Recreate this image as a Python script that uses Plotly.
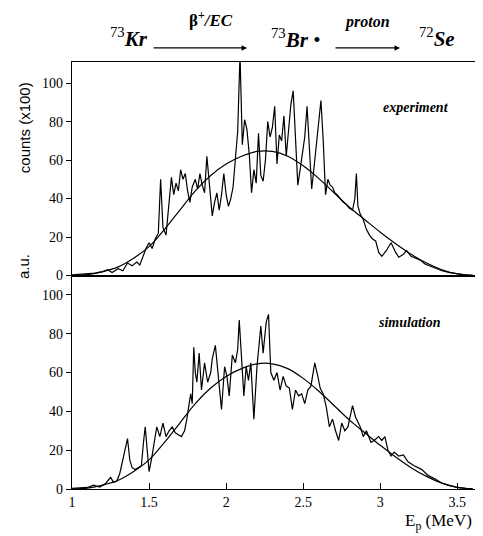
import plotly.graph_objects as go

# ---------------- data ----------------
exp_E = [1.00, 1.05, 1.10, 1.15, 1.20, 1.23, 1.26, 1.30, 1.33, 1.36, 1.39, 1.42, 1.44, 1.46, 1.48,
         1.50, 1.52, 1.54, 1.56, 1.575, 1.59, 1.61, 1.63, 1.645, 1.66, 1.675, 1.69, 1.705, 1.72,
         1.735, 1.75, 1.765, 1.78, 1.80, 1.815, 1.83, 1.845, 1.86, 1.875, 1.89, 1.91, 1.925, 1.94,
         1.955, 1.97, 1.985, 2.00, 2.015, 2.03, 2.045, 2.06, 2.075, 2.09, 2.105, 2.12, 2.135, 2.15,
         2.165, 2.18, 2.195, 2.21, 2.225, 2.24, 2.255, 2.27, 2.285, 2.30, 2.315, 2.33, 2.345, 2.36,
         2.375, 2.39, 2.405, 2.42, 2.435, 2.45, 2.465, 2.48, 2.495, 2.51, 2.525, 2.54, 2.555, 2.57,
         2.585, 2.60, 2.615, 2.63, 2.645, 2.66, 2.675, 2.69, 2.705, 2.72, 2.74, 2.76, 2.78, 2.80,
         2.82, 2.835, 2.845, 2.855, 2.87, 2.89, 2.91, 2.93, 2.95, 2.97, 2.99, 3.01, 3.04, 3.07,
         3.10, 3.12, 3.15, 3.17, 3.20, 3.23, 3.26, 3.29, 3.32, 3.36, 3.40, 3.45, 3.50, 3.55, 3.60]
exp_counts = [0.3, 0.5, 0.8, 1.2, 2.0, 3.0, 1.5, 3.5, 2.5, 6.5, 5, 7, 5.5, 10, 14,
              17, 14, 19, 22, 50, 25, 21, 40, 51, 42, 48, 44, 55, 50,
              53, 44, 38, 46, 50, 45, 53, 47, 43, 62, 48, 31, 38, 43,
              34, 42, 53, 42, 36, 40, 46, 60, 75, 115, 68, 81, 76, 63,
              43, 55, 48, 74, 52, 49, 60, 80, 72, 77, 88, 58, 73, 70,
              83, 62, 75, 89, 96, 68, 47, 55, 65, 72, 88, 65, 45, 56,
              68, 80, 91, 70, 42, 50, 47, 46, 43, 42, 40, 38, 37, 35,
              34, 40, 53, 36, 32, 29, 24, 21, 19, 18, 12, 10, 13, 17,
              12, 9.5, 11, 13, 10, 9, 8, 6, 5, 3.5, 2.5, 1.5, 0.8, 0.4, 0.2]

sim_E = [1.00, 1.05, 1.10, 1.14, 1.18, 1.22, 1.25, 1.27, 1.29, 1.31, 1.33, 1.345, 1.36, 1.375,
         1.39, 1.41, 1.43, 1.45, 1.465, 1.475, 1.49, 1.50, 1.515, 1.53, 1.55, 1.57, 1.59, 1.61,
         1.63, 1.65, 1.67, 1.69, 1.71, 1.73, 1.745, 1.76, 1.77, 1.78, 1.79, 1.80, 1.81, 1.825,
         1.84, 1.86, 1.88, 1.90, 1.91, 1.93, 1.95, 1.97, 1.99, 2.005, 2.02, 2.04, 2.06, 2.075,
         2.085, 2.10, 2.115, 2.13, 2.145, 2.16, 2.18, 2.20, 2.225, 2.24, 2.26, 2.275, 2.29, 2.31,
         2.33, 2.35, 2.37, 2.39, 2.41, 2.43, 2.45, 2.47, 2.49, 2.51, 2.53, 2.55, 2.575, 2.595,
         2.61, 2.63, 2.65, 2.67, 2.69, 2.71, 2.73, 2.75, 2.77, 2.79, 2.82, 2.84, 2.87, 2.89,
         2.91, 2.94, 2.96, 2.99, 3.01, 3.03, 3.05, 3.07, 3.09, 3.12, 3.15, 3.18, 3.22, 3.27,
         3.31, 3.36, 3.40, 3.44, 3.49, 3.55, 3.60]
sim_au = [0.3, 0.5, 0.8, 2, 1, 3, 6, 3.5, 4, 8, 15, 22, 26, 15,
          11, 10, 11, 12, 25, 32, 18, 9, 15, 22, 32, 27, 34, 27,
          30, 32, 29, 28, 27, 30, 36, 44, 49, 44, 73, 60, 55, 70,
          51, 65, 55, 60, 67, 74, 56, 41, 63, 58, 48, 69, 65, 72,
          87, 66, 48, 63, 56, 65, 36, 63, 84, 70, 86, 90, 60, 56,
          60, 51, 58, 53, 52, 41, 51, 48, 49, 44, 51, 53, 65, 58,
          52, 49, 42, 32, 36, 30, 25, 34, 30, 32, 43, 37, 32, 27,
          30, 24, 25, 27, 25, 27, 20, 17, 19, 17, 17.5, 14, 12, 10,
          7, 5, 3, 2, 1, 0.3, 0.1]

fit_E = [1.0, 1.1, 1.2, 1.3, 1.4, 1.5, 1.6, 1.7, 1.8, 1.9, 2.0, 2.1, 2.2, 2.3,
         2.4, 2.5, 2.6, 2.7, 2.8, 2.9, 3.0, 3.1, 3.2, 3.3, 3.4, 3.5, 3.6]
fit_vals = [0, 0.5, 2, 4.5, 9, 15, 24, 34, 44, 52, 58, 62, 64.5, 64.5,
            62, 57, 50.5, 43, 35.5, 29, 22.5, 16.5, 11, 6.5, 3, 0.8, 0]

x_ticks = [1, 1.5, 2, 2.5, 3, 3.5]
x_ticklabels = ["1", "1.5", "2", "2.5", "3", "3.5"]
y_ticks = [0, 20, 40, 60, 80, 100]

# ---------------- figure ----------------
SERIF = "Liberation Serif"
line_style = dict(color="black", width=1.2)
fit_style = dict(color="black", width=1.2, shape="spline")

fig = go.Figure()
fig.add_trace(go.Scatter(x=exp_E, y=exp_counts, mode="lines", line=line_style,
                         xaxis="x2", yaxis="y2"))
fig.add_trace(go.Scatter(x=fit_E, y=fit_vals, mode="lines", line=fit_style,
                         xaxis="x2", yaxis="y2"))
fig.add_trace(go.Scatter(x=sim_E, y=sim_au, mode="lines", line=line_style,
                         xaxis="x", yaxis="y"))
fig.add_trace(go.Scatter(x=fit_E, y=fit_vals, mode="lines", line=fit_style,
                         xaxis="x", yaxis="y"))

axis_common = dict(showline=True, mirror=True, linecolor="black", linewidth=1.3,
                   showgrid=False, zeroline=False)
tickfont = dict(family=SERIF, size=14, color="black")

# the page body adds an 8px margin, so the figure is sized to fit the window
fig.update_layout(
    width=475, height=528,
    margin=dict(l=64, r=1, t=54, b=47),
    paper_bgcolor="white", plot_bgcolor="white",
    showlegend=False,
    xaxis=dict(**axis_common, range=[1, 3.66], domain=[0, 1], anchor="y",
               tickvals=x_ticks, ticktext=x_ticklabels, ticks="inside", ticklen=6,
               tickcolor="black", tickfont=tickfont),
    yaxis=dict(**axis_common, range=[0, 110], domain=[0, 0.5], anchor="x",
               tickvals=y_ticks, ticks="outside", ticklen=5, tickcolor="black",
               tickfont=tickfont),
    xaxis2=dict(**axis_common, range=[1, 3.66], domain=[0, 1], anchor="y2",
                matches="x", showticklabels=False, ticks=""),
    yaxis2=dict(**axis_common, range=[0, 111], domain=[0.5, 1], anchor="x2",
                tickvals=y_ticks, ticks="outside", ticklen=5, tickcolor="black",
                tickfont=tickfont),
)

ann_font_it = dict(family=SERIF, size=14, color="black")
big = dict(family=SERIF, size=21, color="black")
C = dict(xanchor="center", yanchor="middle", showarrow=False)

annotations = [
    dict(text="<b><i>experiment</i></b>", x=3.23, y=87.5, xref="x2", yref="y2",
         font=ann_font_it, **C),
    dict(text="<b><i>simulation</i></b>", x=3.19, y=86, xref="x", yref="y",
         font=ann_font_it, **C),
    dict(text="E<sub>p</sub> (MeV)", x=0.895, y=-0.078, xref="paper", yref="paper",
         font=dict(family=SERIF, size=17, color="black"), **C),
    dict(text="counts (x100)", x=-0.117, y=0.845, xref="paper", yref="paper",
         textangle=-90, font=dict(family="Liberation Sans", size=15, color="black"), **C),
    dict(text="a.u.", x=-0.117, y=0.52, xref="paper", yref="paper",
         textangle=-90, font=dict(family="Liberation Sans", size=15, color="black"), **C),
    # reaction title
    dict(text="<sup>73</sup><b><i>Kr</i></b>", x=0.139, y=1.058, xref="paper", yref="paper",
         font=big, **C),
    dict(text="<b>β<sup>+</sup><i>/EC</i></b>", x=0.34, y=1.1, xref="paper", yref="paper",
         font=dict(family=SERIF, size=17, color="black"), **C),
    dict(text="<sup>73</sup><b><i>Br</i></b> •", x=0.545, y=1.056, xref="paper", yref="paper",
         font=big, **C),
    dict(text="<b><i>proton</i></b>", x=0.72, y=1.094, xref="paper", yref="paper",
         font=dict(family=SERIF, size=16, color="black"), **C),
    dict(text="<sup>72</sup><b><i>Se</i></b>", x=0.89, y=1.058, xref="paper", yref="paper",
         font=big, **C),
    # arrows
    dict(text="", x=0.427, y=1.033, xref="paper", yref="paper", ax=-95, ay=0,
         showarrow=True, arrowhead=2, arrowsize=1, arrowwidth=1.1, arrowcolor="black"),
    dict(text="", x=0.80, y=1.033, xref="paper", yref="paper", ax=-66, ay=0,
         showarrow=True, arrowhead=2, arrowsize=1, arrowwidth=1.1, arrowcolor="black"),
]
fig.update_layout(annotations=annotations)

fig.write_html("out.html")
